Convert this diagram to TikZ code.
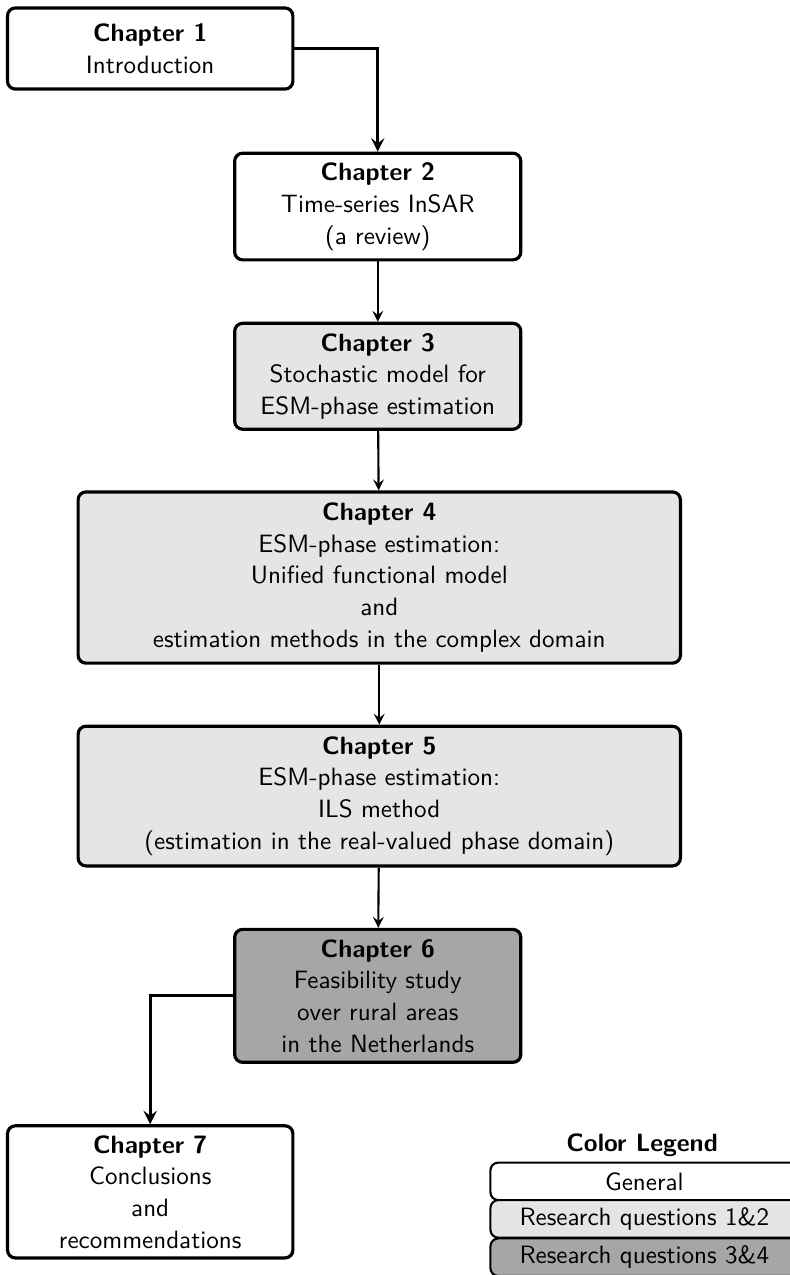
\documentclass[tikz,border=0pt]{standalone}
\usepackage[dvipsnames]{xcolor}
\usepackage{amsmath}
\usepackage{tikz}
\usetikzlibrary{calc, positioning, arrows}
\renewcommand{\familydefault}{\sfdefault}

\begin{document}
\begin{tikzpicture}[
        font=\fontsize{9.5pt}{12pt}\selectfont,
        chapbox/.style={draw, very thick, rounded corners=3pt, align=center, inner sep=2pt},
        legbox/.style={draw, thick, rounded corners=3pt, align=center, inner sep=1pt, minimum width=4.1cm, minimum height=0.5cm},
        flow/.style={thick, -stealth},
        elbow/.style={very thick, -stealth}
    ]
        \useasboundingbox (0,0) rectangle (10.506,-16.977);
        \node[chapbox, minimum width=3.8cm, minimum height=1.08cm] (ch1) at (2.00,-0.646) {\textbf{Chapter 1}\\Introduction};
        \node[chapbox, minimum width=3.81cm, minimum height=1.42cm] (ch2) at (5.03,-2.75) {\textbf{Chapter 2}\\Time-series InSAR\\(a review)};
        \node[chapbox, fill=gray!20, minimum width=3.81cm, minimum height=1.41cm] (ch3) at (5.03,-5.01) {\textbf{Chapter 3}\\Stochastic model for\\ESM-phase estimation};
        \node[chapbox, fill=gray!20, minimum width=8.02cm, minimum height=2.28cm] (ch4) at (5.05,-7.69) {\textbf{Chapter 4}\\ESM-phase estimation:\\Unified functional model\\and\\estimation methods in the complex domain};
        \node[chapbox, fill=gray!20, minimum width=8.02cm, minimum height=1.86cm] (ch5) at (5.05,-10.60) {\textbf{Chapter 5}\\ESM-phase estimation:\\ILS method\\(estimation in the real-valued phase domain)};
        \node[chapbox, fill=gray!70, minimum width=3.81cm, minimum height=1.77cm] (ch6) at (5.03,-13.26) {\textbf{Chapter 6}\\Feasibility study\\over rural areas\\in the Netherlands};
        \node[chapbox, minimum width=3.8cm, minimum height=1.76cm] (ch7) at (2.00,-15.87) {\textbf{Chapter 7}\\Conclusions\\and\\recommendations};
        \node (legtitle) at (8.55,-15.25) {\textbf{Color Legend}};
        \node[legbox] (leggen) at (8.58,-15.73) {General};
        \node[legbox, fill=gray!20] (legrq1) at (8.58,-16.23) {Research questions 1\&2};
        \node[legbox, fill=gray!70] (legrq3) at (8.58,-16.74) {Research questions 3\&4};
        \draw[elbow] (ch1.east) -| (ch2.north);
        \draw[flow] (ch2) -- (ch3);
        \draw[flow] (ch3) -- (ch4);
        \draw[flow] (ch4) -- (ch5);
        \draw[flow] (ch5) -- (ch6);
        \draw[elbow] (ch6.west) -| (ch7.north);
    \end{tikzpicture}
\end{document}
